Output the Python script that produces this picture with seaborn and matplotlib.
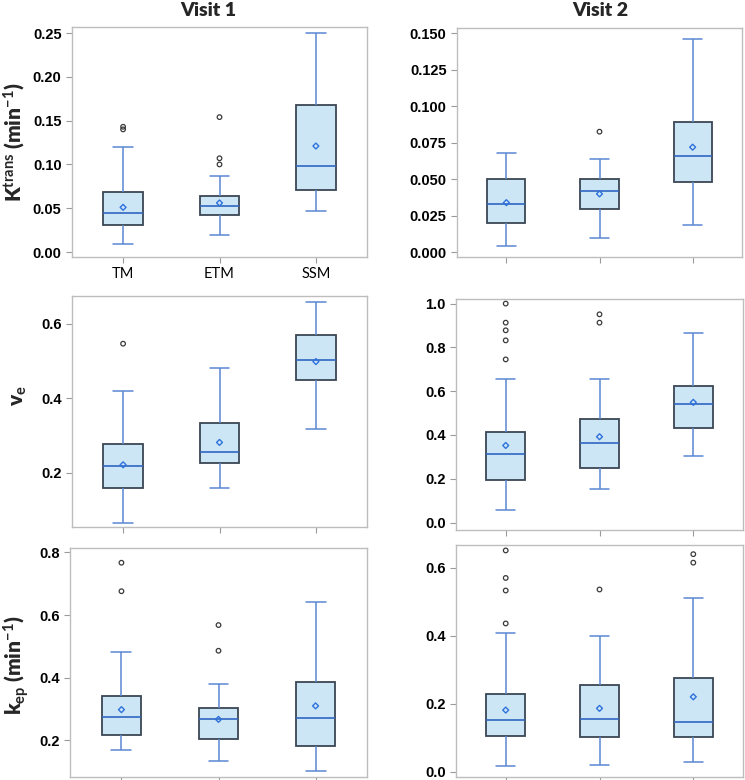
import numpy as np
import pandas as pd
import matplotlib
matplotlib.use("Agg")
import matplotlib.pyplot as plt
import seaborn as sns
from matplotlib.ticker import FormatStrFormatter

groups = ["TM", "ETM", "SSM"]

# boxes per group: [lower whisker, Q1, median, Q3, upper whisker]
ktrans_v1_box = [[0.009, 0.031, 0.044, 0.068, 0.120],
                 [0.019, 0.042, 0.052, 0.064, 0.087],
                 [0.047, 0.071, 0.098, 0.168, 0.250]]
ktrans_v1_mean = [0.051, 0.056, 0.121]
ktrans_v1_out = [[0.140, 0.143], [0.100, 0.107, 0.154], []]

ktrans_v2_box = [[0.004, 0.020, 0.033, 0.050, 0.068],
                 [0.010, 0.0295, 0.042, 0.050, 0.064],
                 [0.019, 0.048, 0.066, 0.089, 0.146]]
ktrans_v2_mean = [0.034, 0.040, 0.072]
ktrans_v2_out = [[], [0.0826], []]

ve_v1_box = [[0.066, 0.160, 0.219, 0.277, 0.421],
             [0.161, 0.226, 0.255, 0.333, 0.481],
             [0.319, 0.449, 0.502, 0.570, 0.660]]
ve_v1_mean = [0.222, 0.282, 0.499]
ve_v1_out = [[0.547], [], []]

ve_v2_box = [[0.058, 0.194, 0.314, 0.413, 0.654],
             [0.155, 0.247, 0.363, 0.471, 0.654],
             [0.305, 0.431, 0.543, 0.625, 0.866]]
ve_v2_mean = [0.352, 0.392, 0.549]
ve_v2_out = [[0.745, 0.832, 0.878, 0.913, 1.0], [0.913, 0.951], []]

kep_v1_box = [[0.169, 0.218, 0.275, 0.343, 0.483],
              [0.133, 0.205, 0.267, 0.302, 0.381],
              [0.101, 0.183, 0.270, 0.385, 0.643]]
kep_v1_mean = [0.298, 0.267, 0.310]
kep_v1_out = [[0.676, 0.767], [0.486, 0.568], []]

kep_v2_box = [[0.016, 0.104, 0.152, 0.229, 0.408],
              [0.019, 0.103, 0.155, 0.255, 0.399],
              [0.027, 0.103, 0.146, 0.274, 0.510]]
kep_v2_mean = [0.181, 0.186, 0.220]
kep_v2_out = [[0.436, 0.533, 0.570, 0.651], [0.536], [0.615, 0.640]]

visit_titles = ["Visit 1", "Visit 2"]
ylabels = [r"K$^{\mathrm{trans}}$ (min$^{\mathbf{-1}}$)",
           r"v$_{\mathbf{e}}$",
           r"k$_{\mathbf{ep}}$ (min$^{\mathbf{-1}}$)"]

sns.set_style("white")
plt.rcParams["font.family"] = ["Liberation Sans", "DejaVu Sans"]
plt.rcParams["font.weight"] = "bold"
plt.rcParams["mathtext.fontset"] = "custom"
plt.rcParams["mathtext.rm"] = "Lato"
plt.rcParams["mathtext.bf"] = "Lato:bold"
plt.rcParams["mathtext.it"] = "Lato:italic"

FILL = "#cde6f6"
EDGE = "#3a4754"
WHISK = "#5a88d4"
MED = "#2f66c2"
MEANC = "#2f72dc"
OUTC = "#3a3a3a"

W, H = 745, 780
fig = plt.figure(figsize=(W / 100, H / 100), dpi=100)


def rect(x0, x1, y0, y1):
    return [x0 / W, 1 - y1 / H, (x1 - x0) / W, (y1 - y0) / H]


def long(values_per_group):
    return pd.DataFrame({
        "group": [g for g, vals in zip(groups, values_per_group) for _ in vals],
        "value": [v for vals in values_per_group for v in vals],
    })


panels = [
    (ktrans_v1_box, ktrans_v1_mean, ktrans_v1_out, rect(72, 367, 27, 257),
     (-0.0057, 0.2569), np.arange(0, 0.26, 0.05), "%.2f", ylabels[0], (-0.15, 0.5), True),
    (ktrans_v2_box, ktrans_v2_mean, ktrans_v2_out, rect(457, 742, 28, 257),
     (-0.0032, 0.1536), np.arange(0, 0.151, 0.025), "%.3f", None, None, False),
    (ve_v1_box, ve_v1_mean, ve_v1_out, rect(72, 367, 296, 527),
     (0.055, 0.675), [0.2, 0.4, 0.6], "%.1f", ylabels[1], (-0.145, 0.567), False),
    (ve_v2_box, ve_v2_mean, ve_v2_out, rect(456, 743, 299, 530),
     (-0.034, 1.021), np.arange(0, 1.01, 0.2), "%.1f", None, None, False),
    (kep_v1_box, kep_v1_mean, kep_v1_out, rect(70, 367, 548, 777),
     (0.083, 0.814), [0.2, 0.4, 0.6, 0.8], "%.1f", ylabels[2], (-0.13, 0.489), False),
    (kep_v2_box, kep_v2_mean, kep_v2_out, rect(456, 743, 545, 777),
     (-0.016, 0.667), [0.0, 0.2, 0.4, 0.6], "%.1f", None, None, False),
]

for box, mean, out, r, ylim, yt, fmt, ylab, lc, show_cats in panels:
    ax = fig.add_axes(r)
    sns.boxplot(data=long(box), x="group", y="value", order=groups, ax=ax,
                whis=(0, 100), width=0.41, color=FILL, saturation=1,
                linecolor=EDGE, linewidth=1.1, showfliers=False,
                boxprops=dict(edgecolor=EDGE, linewidth=1.3),
                whiskerprops=dict(color=WHISK, linewidth=1.1),
                capprops=dict(color=WHISK, linewidth=1.1),
                medianprops=dict(color=MED, linewidth=1.2))
    n0 = len(ax.collections)
    sns.stripplot(data=long(out), x="group", y="value", order=groups, ax=ax,
                  jitter=False, marker="o", size=3.3, color="white",
                  edgecolor=OUTC, linewidth=0.9)
    for c in ax.collections[n0:]:
        c.set_facecolor("none")
        c.set_edgecolor(OUTC)
        c.set_zorder(3)
    n0 = len(ax.collections)
    sns.stripplot(data=long([[m] for m in mean]), x="group", y="value", order=groups,
                  ax=ax, jitter=False, marker="D", size=3.0, color="white",
                  edgecolor=MEANC, linewidth=1.0)
    for c in ax.collections[n0:]:
        c.set_facecolor("none")
        c.set_edgecolor(MEANC)
        c.set_zorder(3)

    ax.set_xlim(-0.53, 2.53)
    ax.set_ylim(*ylim)
    ax.set_yticks(yt)
    ax.yaxis.set_major_formatter(FormatStrFormatter(fmt))
    ax.set_xticks([0, 1, 2])
    if show_cats:
        ax.set_xticklabels(groups, fontfamily="Lato", fontweight="normal", fontsize=13.5)
    else:
        ax.set_xticklabels([])
    ax.set_xlabel("")
    ax.set_ylabel("")
    for s in ax.spines.values():
        s.set_color("#bdbdbd")
        s.set_linewidth(1.0)
    ax.tick_params(axis="both", which="major", direction="out", length=4, width=0.8,
                   colors="#9a9a9a", labelcolor="black", labelsize=10.5,
                   bottom=True, left=True)
    ax.tick_params(axis="x", pad=3)
    if ylab:
        ax.set_ylabel(ylab, fontfamily="Lato", fontweight="heavy", fontsize=15)
        ax.yaxis.set_label_coords(*lc)

fig.text(208 / W, 1 - 10 / H, visit_titles[0], ha="center", va="center",
         fontfamily="Lato", fontweight="heavy", fontsize=14)
fig.text(600 / W, 1 - 10 / H, visit_titles[1], ha="center", va="center",
         fontfamily="Lato", fontweight="heavy", fontsize=14)

fig.savefig("out.png", dpi=100)
